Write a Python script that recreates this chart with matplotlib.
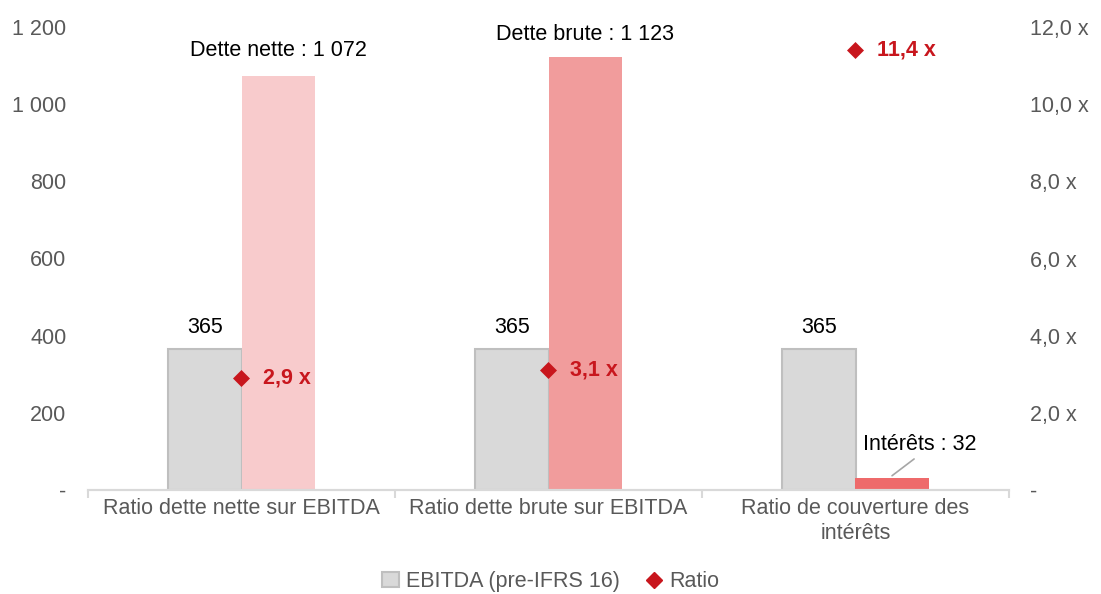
import matplotlib
matplotlib.use("Agg")
import matplotlib.pyplot as plt
import numpy as np
from matplotlib.lines import Line2D
from matplotlib.patches import Patch

categories = ["Ratio dette nette sur EBITDA", "Ratio dette brute sur EBITDA", "Ratio de couverture des\nintérêts"]
ebitda = [365, 365, 365]
debt_values = [1072, 1123, 32]
debt_labels = ["Dette nette : 1 072", "Dette brute : 1 123", "Intérêts : 32"]
ratios = [2.9, 3.1, 11.4]
ratio_labels = ["2,9 x", "3,1 x", "11,4 x"]
left_ticks = [0, 200, 400, 600, 800, 1000, 1200]
left_ticklabels = ["-", "200", "400", "600", "800", "1 000", "1 200"]
right_ticks = [0, 2, 4, 6, 8, 10, 12]
right_ticklabels = ["-", "2,0 x", "4,0 x", "6,0 x", "8,0 x", "10,0 x", "12,0 x"]

plt.rcParams['font.family'] = ['Liberation Sans', 'DejaVu Sans']

gray = "#D9D9D9"
gray_edge = "#BFBFBF"
debt_colors = ["#F8CBCC", "#F19C9C", "#EE6A6B"]
red = "#C8161D"
tick_color = "#595959"
fs = 15.5

fig = plt.figure(figsize=(11.01, 5.94), dpi=100)
ax = fig.add_axes([88/1101, 1 - 490/594, (1009-88)/1101, 463/594])
ax2 = ax.twinx()

x = np.arange(len(categories))
w = 0.238
ax.bar(x - w/2, ebitda, width=w, color=gray, edgecolor=gray_edge, linewidth=1.5, zorder=2)
ax.bar(x + w/2, debt_values, width=w, color=debt_colors, linewidth=0, zorder=2)

ax.set_xlim(-0.5, 2.5)
ax.set_ylim(0, 1200)
ax2.set_ylim(0, 12)

ax2.scatter(x, ratios, marker="D", s=75, color=red, zorder=5, linewidths=0)

for i in range(3):
    ax.text(x[i] - w/2, ebitda[i] + 28, f"{ebitda[i]}", ha="center", va="bottom", fontsize=fs, color="black")
    ax2.text(x[i] + 0.07, ratios[i], ratio_labels[i], ha="left", va="center",
             fontsize=fs, color=red, fontweight="bold")

ax.text(x[0] + w/2, debt_values[0] + 40, debt_labels[0], ha="center", va="bottom", fontsize=fs)
ax.text(x[1] + w/2, debt_values[1] + 30, debt_labels[1], ha="center", va="bottom", fontsize=fs)
ax.annotate(debt_labels[2], xy=(x[2] + w/2, debt_values[2] + 5), xytext=(2.21, 92),
            ha="center", va="bottom", fontsize=fs,
            arrowprops=dict(arrowstyle="-", color="#A6A6A6", lw=1.2, shrinkA=2, shrinkB=0,
                            relpos=(0.5, 0)))

ax.set_yticks(left_ticks)
ax.set_yticklabels(left_ticklabels)
ax2.set_yticks(right_ticks)
ax2.set_yticklabels(right_ticklabels)
for a in (ax, ax2):
    for s in ["top", "left", "right"]:
        a.spines[s].set_visible(False)
    a.spines["bottom"].set_color("#D9D9D9")
    a.spines["bottom"].set_linewidth(1.5)
    a.tick_params(axis="y", length=0, labelsize=fs, labelcolor=tick_color)
ax.tick_params(axis="y", pad=15.5)
ax2.tick_params(axis="y", pad=15)

ax.set_xticks(x)
ax.set_xticklabels(categories, fontsize=fs, color=tick_color, linespacing=1.2)
ax.tick_params(axis="x", length=0, pad=6)
ax.set_xticks([-0.5, 0.5, 1.5, 2.5], minor=True)
ax.tick_params(axis="x", which="minor", length=6, color="#D9D9D9", width=1.5)

handles = [Patch(facecolor=gray, edgecolor=gray_edge, linewidth=1.5, label="EBITDA (pre-IFRS 16)"),
           Line2D([], [], marker="D", color=red, linestyle="none", markersize=8, label="Ratio")]
fig.legend(handles=handles, loc="lower center", bbox_to_anchor=(0.5, -0.03), ncol=2, frameon=False,
           fontsize=fs, labelcolor=tick_color, handlelength=0.8, handletextpad=0.3, columnspacing=1.2)

fig.savefig("out.png", dpi=100)
